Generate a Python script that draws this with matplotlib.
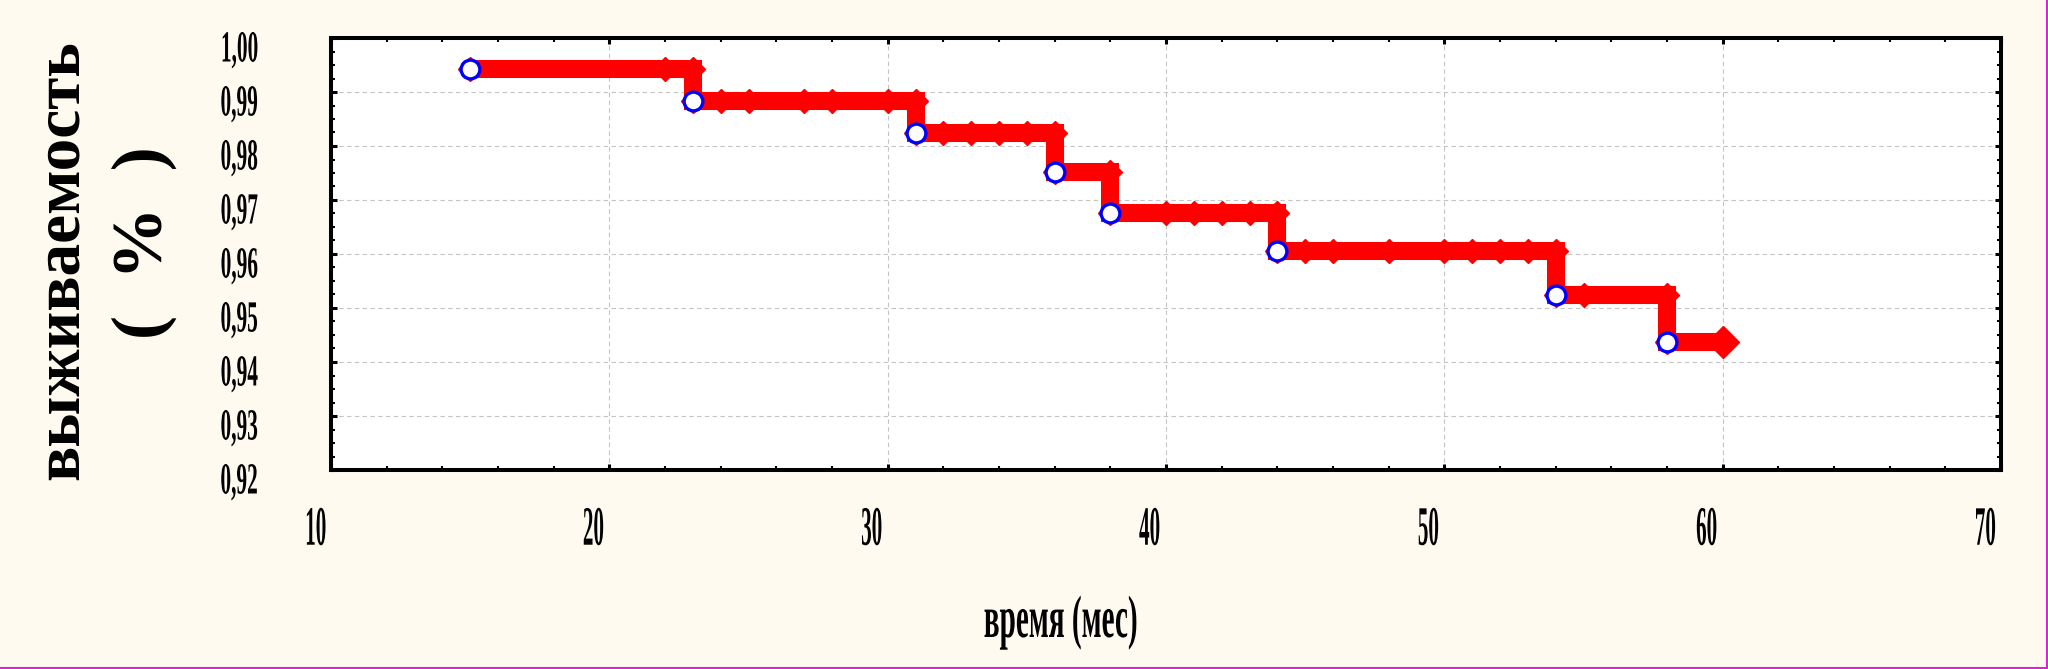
import numpy as np
import matplotlib
matplotlib.use("Agg")
from matplotlib import pyplot as plt
from matplotlib.ticker import MultipleLocator
from matplotlib.patheffects import AbstractPathEffect
from matplotlib.transforms import Affine2D
from matplotlib.lines import Line2D

# event times (months) and survival at each event
times = [15, 23, 31, 36, 38, 44, 54, 58]
surv = [0.9942, 0.9883, 0.9824, 0.9751, 0.9676, 0.9605, 0.9524, 0.9437]
# censored observations
censored = [22, 24, 25, 27, 28, 30, 32, 33, 34, 35, 40, 41, 42, 43,
            45, 46, 48, 50, 51, 52, 53, 55, 60]

xticks = [10, 20, 30, 40, 50, 60, 70]
xlabels = ["10", "20", "30", "40", "50", "60", "70"]
yticks = [0.92, 0.93, 0.94, 0.95, 0.96, 0.97, 0.98, 0.99, 1.00]
ylabels = ["0,92", "0,93", "0,94", "0,95", "0,96", "0,97", "0,98", "0,99", "1,00"]


class Squeeze(AbstractPathEffect):
    # narrow lettering like the old Statistica export
    def __init__(self, k, dx=0, dy=0):
        super().__init__()
        self.k = k
        self.dx = dx
        self.dy = dy

    def draw_path(self, renderer, gc, tpath, affine, rgbFace=None):
        ext = tpath.get_extents()
        cx = (ext.x0 + ext.x1) / 2
        narrow = Affine2D().translate(-cx, 0).scale(self.k, 1).translate(cx, 0)
        shift = Affine2D().translate(self.dx, self.dy)
        renderer.draw_path(gc, tpath, narrow + affine + shift, rgbFace)


plt.rcParams["font.family"] = ["Liberation Serif", "DejaVu Serif"]

fig = plt.figure(figsize=(20.48, 6.69), dpi=100, facecolor="#fffaf0")
ax = fig.add_axes([331 / 2048, 1 - 470 / 669, 1670 / 2048, 432 / 669])
ax.set_facecolor("white")

# step curve vertices
xs, ys = [times[0]], [surv[0]]
level = surv[0]
for t in sorted(times[1:] + censored):
    if t in times:
        xs.append(t)
        ys.append(level)
        level = surv[times.index(t)]
    xs.append(t)
    ys.append(level)

ax.plot(xs, ys, color="red", lw=13, marker="D", ms=12, markevery=slice(0, -1),
        solid_joinstyle="miter", solid_capstyle="butt", zorder=3)
ax.plot(xs[-1], ys[-1], "D", color="red", ms=16, zorder=3)
ax.plot(times, surv, "o", ms=13.5, mfc="white", mec="blue", mew=2.4, zorder=4)

ax.set_xlim(10, 70)
ax.set_ylim(0.92, 1.00)
ax.set_xticks(xticks, xlabels)
ax.set_yticks(yticks, ylabels)
ax.xaxis.set_minor_locator(MultipleLocator(2))
ax.yaxis.set_minor_locator(MultipleLocator(0.0025))

ax.set_axisbelow(True)
ax.grid(True, which="major", color="#c4c4c4", ls=(0, (4, 3)), lw=0.8)

for s in ax.spines.values():
    s.set_linewidth(2.9)
    s.set_color("black")

ax.tick_params(which="both", direction="in", top=True, right=True, color="black")
ax.tick_params(which="major", length=4.5, width=2.2)
ax.tick_params(which="minor", length=3.2, width=1.5)
ax.tick_params(axis="x", which="major", pad=25, labelsize=40)
ax.tick_params(axis="y", which="major", pad=66, labelsize=32)

for t in ax.get_xticklabels():
    t.set_fontweight("bold")
    t.set_path_effects([Squeeze(0.38, dx=-16)])
for t in ax.get_yticklabels():
    t.set_fontweight("bold")
    t.set_ha("center")
    t.set_path_effects([Squeeze(0.48, dy=-8)])

fig.text(78 / 2048, 1 - 260 / 669, "выживаемость", rotation=90, rotation_mode="anchor",
         ha="center", va="baseline", fontsize=47, fontweight="bold")
fig.text(162 / 2048, 1 - 243 / 669, "(  %  )", rotation=90, rotation_mode="anchor",
         ha="center", va="baseline", fontsize=52, fontweight="bold")

t = fig.text(1061 / 2048, 1 - 637 / 669, "время (мес)", ha="center", va="baseline",
             fontsize=43, fontweight="bold")
t.set_path_effects([Squeeze(0.49)])

fig.add_artist(Line2D([0, 1], [0.0015, 0.0015], transform=fig.transFigure,
                      color="#e020e0", lw=1.5))
fig.add_artist(Line2D([0.9993, 0.9993], [0, 1], transform=fig.transFigure,
                      color="#e020e0", lw=1.5))

fig.savefig("out.png", dpi=100, facecolor=fig.get_facecolor())
